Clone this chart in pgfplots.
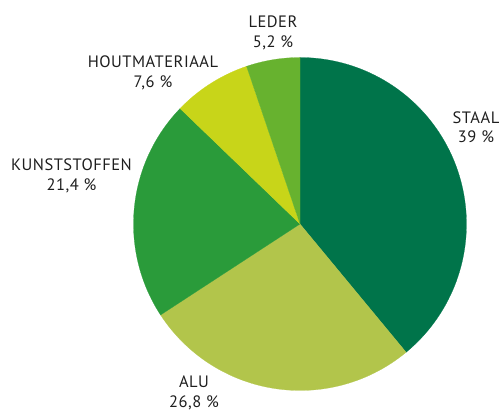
\documentclass[border=0pt]{standalone}
\usepackage{fontspec}
\setmainfont[LetterSpace=3]{PT Sans}
\usepackage{pgfplots}
\pgfplotsset{compat=1.18}
\usepackage{pgfplotstable}
\definecolor{cStaal}{HTML}{00744A}
\definecolor{cAlu}{HTML}{B2C54B}
\definecolor{cKunst}{HTML}{2A9B3A}
\definecolor{cHout}{HTML}{C8D519}
\definecolor{cLeder}{HTML}{67B22F}
\definecolor{txt}{HTML}{1E1E1E}
% shares in percent, clockwise from the top
\pgfplotstableread{
name share
STAAL 39
ALU 26.8
KUNSTSTOFFEN 21.4
HOUTMATERIAAL 7.6
LEDER 5.2
}\shares
\begin{document}
\begin{tikzpicture}
\pgfplotstablegetelem{0}{share}\of\shares \let\sA\pgfplotsretval
\pgfplotstablegetelem{1}{share}\of\shares \let\sB\pgfplotsretval
\pgfplotstablegetelem{2}{share}\of\shares \let\sC\pgfplotsretval
\pgfplotstablegetelem{3}{share}\of\shares \let\sD\pgfplotsretval
\pgfplotstablegetelem{4}{share}\of\shares \let\sE\pgfplotsretval
\pgfmathsetmacro\aA{90}
\pgfmathsetmacro\aB{\aA-3.6*\sA}
\pgfmathsetmacro\aC{\aB-3.6*\sB}
\pgfmathsetmacro\aD{\aC-3.6*\sC}
\pgfmathsetmacro\aE{\aD-3.6*\sD}
\pgfmathsetmacro\aF{\aE-3.6*\sE}
\begin{axis}[
  scale only axis, width=501pt, height=412pt,
  xmin=0, xmax=501, ymin=0, ymax=412,
  hide axis, clip=false,
]
\def\cx{300}\def\cy{188}\def\r{166.5}
\addplot[fill=cStaal, draw=cStaal, line width=0.2pt, domain=\aB:\aA, samples=80]
  ({\cx+\r*cos(x)},{\cy+\r*sin(x)}) -- (axis cs:\cx,\cy) -- cycle;
\addplot[fill=cAlu, draw=cAlu, line width=0.2pt, domain=\aC:\aB, samples=60]
  ({\cx+\r*cos(x)},{\cy+\r*sin(x)}) -- (axis cs:\cx,\cy) -- cycle;
\addplot[fill=cKunst, draw=cKunst, line width=0.2pt, domain=\aD:\aC, samples=50]
  ({\cx+\r*cos(x)},{\cy+\r*sin(x)}) -- (axis cs:\cx,\cy) -- cycle;
\addplot[fill=cHout, draw=cHout, line width=0.2pt, domain=\aE:\aD, samples=20]
  ({\cx+\r*cos(x)},{\cy+\r*sin(x)}) -- (axis cs:\cx,\cy) -- cycle;
\addplot[fill=cLeder, draw=cLeder, line width=0.2pt, domain=\aF:\aE, samples=20]
  ({\cx+\r*cos(x)},{\cy+\r*sin(x)}) -- (axis cs:\cx,\cy) -- cycle;
\tikzset{lbl/.style={align=center, text=txt, font=\fontsize{16.5}{19.5}\selectfont, inner sep=0pt}}
\node[lbl] at (axis cs:273,379) {LEDER\\5,2 \%};
\node[lbl] at (axis cs:153,339) {HOUTMATERIAAL\\7,6 \%};
\node[lbl] at (axis cs:476,285) {STAAL\\39 \%};
\node[lbl] at (axis cs:71.5,236) {KUNSTSTOFFEN\\21,4 \%};
\node[lbl] at (axis cs:194,19) {ALU\\26,8 \%};
\end{axis}
\pgfresetboundingbox
\path[use as bounding box] (current axis.south west) rectangle (current axis.north east);
\end{tikzpicture}
\end{document}
